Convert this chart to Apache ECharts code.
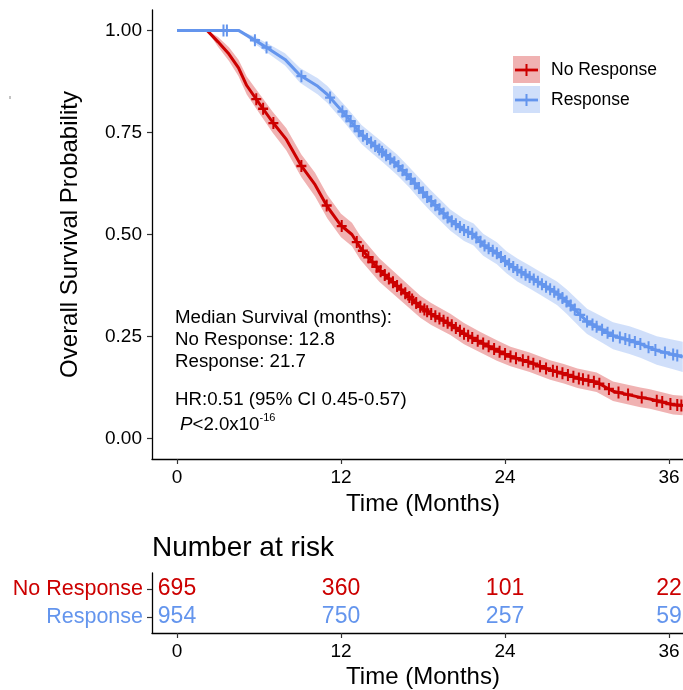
<!DOCTYPE html>
<html>
<head>
<meta charset="utf-8">
<script src="https://cdn.jsdelivr.net/npm/echarts@6/dist/echarts.min.js"></script>
<style>
  html, body { margin: 0; padding: 0; background: #fff; }
  #chart { width: 683px; height: 690px; }
</style>
</head>
<body>
<div id="chart"></div>
<script>
const groups = ['No Response', 'Response'];

// ---- Kaplan-Meier estimates (months, survival probability) ----
const noRespTime  = [0, 2.2, 3.0, 3.8, 4.5, 5.1, 6.0, 7.0, 8.0, 9.1, 10.1, 11.0, 12.0, 12.8, 13.4, 14.8, 16.3, 17.8, 18.6, 20.0, 21.0, 22.2, 23.4, 24.4, 25.8, 27.3, 28.3, 29.3, 30.7, 31.9, 33.9, 34.6, 36.3, 37.0];
const noRespSurv  = [1, 1, 0.972, 0.942, 0.908, 0.865, 0.822, 0.775, 0.733, 0.668, 0.622, 0.568, 0.522, 0.500, 0.468, 0.413, 0.368, 0.323, 0.305, 0.280, 0.257, 0.236, 0.216, 0.201, 0.187, 0.168, 0.159, 0.148, 0.138, 0.116, 0.101, 0.097, 0.083, 0.081];
const noRespLower = [1, 1, 0.960, 0.925, 0.888, 0.843, 0.798, 0.749, 0.706, 0.640, 0.593, 0.539, 0.493, 0.471, 0.439, 0.384, 0.340, 0.296, 0.278, 0.254, 0.231, 0.211, 0.191, 0.177, 0.163, 0.144, 0.135, 0.124, 0.114, 0.092, 0.077, 0.073, 0.059, 0.057];
const noRespUpper = [1, 1, 0.984, 0.959, 0.928, 0.887, 0.846, 0.801, 0.760, 0.696, 0.651, 0.597, 0.551, 0.529, 0.497, 0.442, 0.396, 0.350, 0.332, 0.306, 0.283, 0.261, 0.241, 0.225, 0.211, 0.192, 0.183, 0.172, 0.162, 0.140, 0.125, 0.121, 0.107, 0.105];
const noRespCensor = [5.8, 6.3, 7.05, 9.1, 10.95, 12.05, 13.15, 13.6, 14.0, 14.3, 14.6, 14.9, 15.2, 15.5, 15.8, 16.1, 16.4, 16.7, 17.0, 17.2, 17.5, 17.8, 18.1, 18.3, 18.6, 18.9, 19.2, 19.5, 19.8, 20.1, 20.4, 20.7, 21.0, 21.3, 21.6, 22.0, 22.4, 22.8, 23.2, 23.6, 24.0, 24.4, 24.8, 25.3, 25.7, 26.07, 26.56, 27.0, 27.5, 27.8, 28.2, 28.6, 29.0, 29.4, 29.7, 30.1, 30.5, 30.9, 31.6, 32.3, 33.0, 34.0, 35.1, 35.5, 36.1, 36.6, 36.9];

const respTime  = [0, 4.5, 5.6, 6.7, 7.9, 9.0, 10.3, 11.0, 12.4, 13.5, 14.1, 15.1, 16.1, 17.0, 17.8, 18.5, 20.0, 21.0, 21.7, 22.4, 23.4, 24.1, 24.9, 25.8, 26.6, 27.8, 28.5, 29.5, 30.0, 31.2, 31.9, 33.1, 33.9, 35.1, 36.3, 37.0];
const respSurv  = [1, 1, 0.978, 0.955, 0.929, 0.890, 0.863, 0.843, 0.790, 0.745, 0.728, 0.700, 0.671, 0.640, 0.610, 0.585, 0.535, 0.511, 0.500, 0.475, 0.454, 0.432, 0.413, 0.396, 0.380, 0.356, 0.336, 0.303, 0.287, 0.265, 0.252, 0.241, 0.232, 0.216, 0.206, 0.200];
const respLower = [1, 1, 0.970, 0.943, 0.914, 0.872, 0.843, 0.822, 0.768, 0.722, 0.704, 0.676, 0.646, 0.615, 0.584, 0.559, 0.509, 0.484, 0.473, 0.448, 0.427, 0.405, 0.385, 0.368, 0.352, 0.327, 0.306, 0.272, 0.256, 0.233, 0.219, 0.207, 0.198, 0.181, 0.170, 0.163];
const respUpper = [1, 1, 0.986, 0.967, 0.944, 0.908, 0.883, 0.864, 0.812, 0.768, 0.752, 0.724, 0.696, 0.665, 0.636, 0.611, 0.561, 0.538, 0.527, 0.502, 0.481, 0.459, 0.441, 0.424, 0.408, 0.385, 0.366, 0.334, 0.318, 0.297, 0.285, 0.275, 0.266, 0.251, 0.242, 0.237];
const respCensor = [3.4, 3.65, 5.7, 6.55, 9.1, 11.2, 12.1, 12.4, 12.7, 13.0, 13.3, 13.6, 13.9, 14.2, 14.5, 14.8, 15.0, 15.3, 15.6, 15.9, 16.2, 16.5, 16.8, 17.1, 17.4, 17.7, 18.0, 18.3, 18.6, 18.9, 19.2, 19.5, 19.8, 20.1, 20.4, 20.7, 21.0, 21.3, 21.6, 21.9, 22.2, 22.5, 22.8, 23.1, 23.4, 23.7, 24.0, 24.3, 24.6, 24.9, 25.2, 25.5, 25.8, 26.1, 26.4, 26.7, 27.0, 27.3, 27.6, 27.9, 28.2, 28.5, 28.8, 29.1, 29.5, 30.0, 30.4, 30.7, 31.1, 31.5, 31.9, 32.4, 32.8, 33.1, 33.5, 33.9, 34.5, 35.0, 35.7, 36.3, 36.6];

// ---- Number at risk ----
const riskTimes  = [0, 12, 24, 36];
const riskNoResp = [695, 360, 101, 22];
const riskResp   = [954, 750, 257, 59];

// ---- Axis ticks and summary text ----
const xTicks = [0, 12, 24, 36];
const yTicks = [0, 0.25, 0.5, 0.75, 1];
const medianNoResp = '12.8';
const medianResp = '21.7';
const hrText = 'HR:0.51 (95% CI 0.45-0.57)';

const RED = '#CC0000';
const BLUE = '#6495ED';
const RED_BAND = 'rgba(204,0,0,0.3)';
const BLUE_BAND = 'rgba(100,149,237,0.3)';
const FONT = 'Liberation Sans';
const X_MIN = -1.83, X_MAX = 37.02;

// survival value of a curve at time t (to place censor marks on the curve)
function survAt(times, surv, t) {
  for (let i = 1; i < times.length; i++) {
    if (t <= times[i]) {
      const f = (t - times[i - 1]) / (times[i] - times[i - 1]);
      return surv[i - 1] + f * (surv[i] - surv[i - 1]);
    }
  }
  return surv[surv.length - 1];
}

const pairs = (xs, ys) => xs.map((x, i) => [x, ys[i]]);
const censorPoints = (c, times, surv) => c.map(t => [t, survAt(times, surv, t)]);

function bandSeries(times, lower, upper, fill) {
  return {
    type: 'custom',
    xAxisIndex: 0, yAxisIndex: 0,
    clip: true,
    silent: true,
    data: [[times[0], upper[0]]],
    renderItem: function (params, api) {
      const pts = [];
      for (let i = 0; i < times.length; i++) pts.push(api.coord([times[i], upper[i]]));
      for (let i = times.length - 1; i >= 0; i--) pts.push(api.coord([times[i], lower[i]]));
      return { type: 'polygon', shape: { points: pts }, style: { fill: fill, stroke: null } };
    },
    z: 1
  };
}

// numbers at risk are drawn as text at (time, row) through the table's axes
function riskSeries(values, row, color) {
  return {
    type: 'custom', xAxisIndex: 1, yAxisIndex: 1,
    silent: true,
    data: riskTimes.map((t, i) => [t, row, values[i]]),
    renderItem: function (params, api) {
      const p = api.coord([api.value(0), api.value(1)]);
      return {
        type: 'text', x: p[0], y: p[1],
        style: {
          text: String(api.value(2)), fill: color, fontSize: 23, fontFamily: FONT,
          align: 'center', verticalAlign: 'middle'
        }
      };
    }
  };
}

const PLUS = 'path://M4,0H6V4H10V6H6V10H4V6H0V4H4Z';

const axisLineStyle = { onZero: false, lineStyle: { color: '#000', width: 1.3 } };
const tickStyle = { show: true, length: 5, lineStyle: { color: '#333', width: 1.2 } };

const chart = echarts.init(document.getElementById('chart'), null, { renderer: 'canvas' });

const option = {
  animation: false,
  backgroundColor: '#fff',
  textStyle: { fontFamily: FONT },
  grid: [
    { left: 152, right: 0, top: 10, bottom: 231 },
    { left: 152, right: 0, top: 573, bottom: 57 }
  ],
  xAxis: [
    {
      type: 'value', gridIndex: 0, min: X_MIN, max: X_MAX,
      axisLine: axisLineStyle,
      axisTick: Object.assign({ customValues: xTicks }, tickStyle),
      axisLabel: { customValues: xTicks, color: '#000', fontSize: 19, margin: 9, fontFamily: FONT },
      splitLine: { show: false },
      name: 'Time (Months)', nameLocation: 'middle', nameGap: 30,
      nameTextStyle: { fontSize: 24, color: '#000', fontFamily: FONT, padding: [0, 0, 0, 11] }
    },
    {
      type: 'value', gridIndex: 1, min: X_MIN, max: X_MAX,
      axisLine: axisLineStyle,
      axisTick: Object.assign({ customValues: xTicks }, tickStyle),
      axisLabel: { customValues: xTicks, color: '#000', fontSize: 19, margin: 9, fontFamily: FONT },
      splitLine: { show: false },
      name: 'Time (Months)', nameLocation: 'middle', nameGap: 32,
      nameTextStyle: { fontSize: 24, color: '#000', fontFamily: FONT, padding: [0, 0, 0, 11] }
    }
  ],
  yAxis: [
    {
      type: 'value', gridIndex: 0, min: -0.05, max: 1.05,
      axisLine: axisLineStyle,
      axisTick: Object.assign({ customValues: yTicks }, tickStyle),
      axisLabel: {
        customValues: yTicks, color: '#000', fontSize: 19, margin: 10, fontFamily: FONT,
        formatter: v => v.toFixed(2)
      },
      splitLine: { show: false },
      name: 'Overall Survival Probability', nameLocation: 'middle', nameGap: 70,
      nameTextStyle: { fontSize: 24, color: '#000', fontFamily: FONT }
    },
    {
      type: 'value', gridIndex: 1, min: 0.4286, max: 2.5714,
      axisLine: axisLineStyle,
      axisTick: Object.assign({ customValues: [1, 2] }, tickStyle),
      axisLabel: {
        customValues: [1, 2], margin: 9, fontFamily: FONT,
        formatter: v => (v === 2 ? '{r|' + groups[0] + '}' : '{b|' + groups[1] + '}'),
        rich: {
          r: { color: RED, fontSize: 21.5, fontFamily: FONT },
          b: { color: BLUE, fontSize: 21.5, fontFamily: FONT }
        }
      },
      splitLine: { show: false }
    }
  ],
  series: [
    bandSeries(noRespTime, noRespLower, noRespUpper, RED_BAND),
    bandSeries(respTime, respLower, respUpper, BLUE_BAND),
    {
      type: 'line', name: groups[0], xAxisIndex: 0, yAxisIndex: 0,
      data: pairs(noRespTime, noRespSurv), showSymbol: false, symbol: 'none',
      lineStyle: { color: RED, width: 3 }, z: 3
    },
    {
      type: 'scatter', xAxisIndex: 0, yAxisIndex: 0,
      data: censorPoints(noRespCensor, noRespTime, noRespSurv),
      symbol: PLUS, symbolSize: [10, 12], itemStyle: { color: RED, opacity: 1 }, z: 3
    },
    {
      type: 'line', name: groups[1], xAxisIndex: 0, yAxisIndex: 0,
      data: pairs(respTime, respSurv), showSymbol: false, symbol: 'none',
      lineStyle: { color: BLUE, width: 3 }, z: 4
    },
    {
      type: 'scatter', xAxisIndex: 0, yAxisIndex: 0,
      data: censorPoints(respCensor, respTime, respSurv),
      symbol: PLUS, symbolSize: [10, 12], itemStyle: { color: BLUE, opacity: 1 }, z: 4
    },
    // number at risk table
    riskSeries(riskNoResp, 2, RED),
    riskSeries(riskResp, 1, BLUE)
  ],
  graphic: [
    // legend
    { type: 'rect', shape: { x: 513, y: 56, width: 27, height: 27 }, style: { fill: RED_BAND } },
    { type: 'line', shape: { x1: 515, y1: 70, x2: 538, y2: 70 }, style: { stroke: RED, lineWidth: 2.8 } },
    { type: 'line', shape: { x1: 526.5, y1: 64, x2: 526.5, y2: 76 }, style: { stroke: RED, lineWidth: 2 } },
    { type: 'text', x: 551, y: 70, style: { text: groups[0], fontSize: 17.5, fontFamily: FONT, fill: '#000', verticalAlign: 'middle' } },
    { type: 'rect', shape: { x: 513, y: 86, width: 27, height: 27 }, style: { fill: BLUE_BAND } },
    { type: 'line', shape: { x1: 515, y1: 100, x2: 538, y2: 100 }, style: { stroke: BLUE, lineWidth: 2.8 } },
    { type: 'line', shape: { x1: 526.5, y1: 94, x2: 526.5, y2: 106 }, style: { stroke: BLUE, lineWidth: 2 } },
    { type: 'text', x: 551, y: 100, style: { text: groups[1], fontSize: 17.5, fontFamily: FONT, fill: '#000', verticalAlign: 'middle' } },
    // summary annotations
    { type: 'text', x: 175, y: 318, style: { text: 'Median Survival (months):', fontSize: 18.7, fontFamily: FONT, fill: '#000', verticalAlign: 'middle' } },
    { type: 'text', x: 175, y: 340, style: { text: groups[0] + ': ' + medianNoResp, fontSize: 18.7, fontFamily: FONT, fill: '#000', verticalAlign: 'middle' } },
    { type: 'text', x: 175, y: 362, style: { text: groups[1] + ': ' + medianResp, fontSize: 18.7, fontFamily: FONT, fill: '#000', verticalAlign: 'middle' } },
    { type: 'text', x: 175, y: 400, style: { text: hrText, fontSize: 18.7, fontFamily: FONT, fill: '#000', verticalAlign: 'middle' } },
    {
      type: 'text', x: 180, y: 412,
      style: {
        text: '{i|P}{n|<2.0x10}{s|-16}', fontFamily: FONT, fill: '#000',
        rich: {
          i: { fontSize: 18.7, fontStyle: 'italic', fontFamily: FONT, lineHeight: 22, verticalAlign: 'bottom' },
          n: { fontSize: 18.7, fontFamily: FONT, lineHeight: 22, verticalAlign: 'bottom' },
          s: { fontSize: 11, fontFamily: FONT, lineHeight: 22, verticalAlign: 'top' }
        }
      }
    },
    // risk table title
    { type: 'text', x: 152, y: 548, style: { text: 'Number at risk', fontSize: 28, fontFamily: FONT, fill: '#000', verticalAlign: 'middle' } },
    // small stray mark at the left margin
    { type: 'line', shape: { x1: 10, y1: 96, x2: 10, y2: 99 }, style: { stroke: '#888', lineWidth: 1 } }
  ]
};

chart.setOption(option);
</script>
</body>
</html>
